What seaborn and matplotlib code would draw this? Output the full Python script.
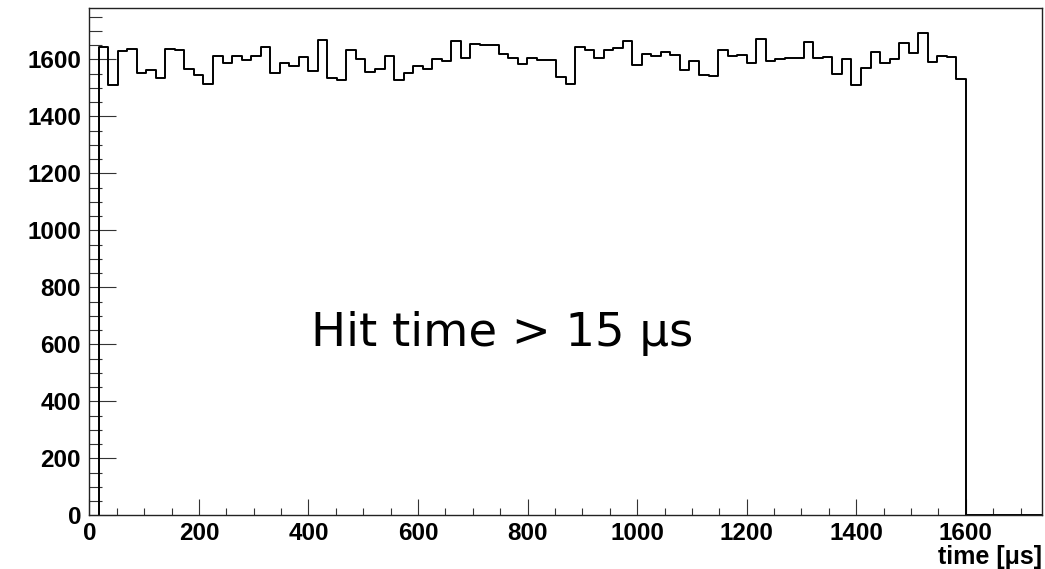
import numpy as np
import pandas as pd
import matplotlib
matplotlib.use("Agg")
import matplotlib.pyplot as plt
import seaborn as sns
from matplotlib.ticker import MultipleLocator

# bin contents (91 bins between ~17 us and 1600 us)
counts = [1643, 1511, 1628, 1635, 1553, 1561, 1533, 1636, 1634, 1565,
          1546, 1515, 1611, 1588, 1612, 1598, 1612, 1644, 1553, 1586,
          1578, 1608, 1558, 1668, 1533, 1526, 1634, 1601, 1556, 1566,
          1612, 1529, 1553, 1577, 1566, 1601, 1593, 1665, 1606, 1654,
          1650, 1650, 1620, 1604, 1584, 1604, 1596, 1598, 1538, 1515,
          1642, 1634, 1605, 1634, 1640, 1665, 1581, 1619, 1612, 1625,
          1615, 1563, 1593, 1544, 1540, 1632, 1613, 1615, 1588, 1670,
          1594, 1600, 1605, 1605, 1661, 1605, 1609, 1549, 1602, 1509,
          1570, 1625, 1586, 1601, 1656, 1622, 1694, 1591, 1613, 1608,
          1532]
t_lo, t_hi = 17, 1600
x_max, y_max = 1739, 1779

edges = np.linspace(t_lo, t_hi, len(counts) + 1)
df = pd.DataFrame({"time": 0.5 * (edges[:-1] + edges[1:]), "n": counts})

sns.set_style("ticks")
plt.rcParams["font.family"] = ["Liberation Sans", "DejaVu Sans"]
plt.rcParams["text.color"] = "black"
plt.rcParams["xtick.labelcolor"] = "black"
plt.rcParams["ytick.labelcolor"] = "black"

fig = plt.figure(figsize=(10.45, 5.69), dpi=100)
ax = fig.add_axes([0.0855, 0.0944, 0.9116, 0.891])

sns.histplot(data=df, x="time", weights="n", bins=list(edges), element="step",
             fill=False, color="black", linewidth=1.4, ax=ax)
# ROOT-style outline: drop to zero at both ends, empty tail after 1600
ax.vlines([edges[0], edges[-1]], 0, [counts[0], counts[-1]], color="black", lw=1.4)
ax.plot([t_hi, x_max], [0, 0], color="black", lw=1.4)

ax.set_xlim(0, x_max)
ax.set_ylim(0, y_max)
ax.xaxis.set_major_locator(MultipleLocator(200))
ax.xaxis.set_minor_locator(MultipleLocator(50))
ax.yaxis.set_major_locator(MultipleLocator(200))
ax.yaxis.set_minor_locator(MultipleLocator(50))

ax.tick_params(axis="both", which="both", direction="in", top=False, right=False,
               width=0.8, color="#333333")
ax.tick_params(axis="y", which="major", length=19.5, pad=6)
ax.tick_params(axis="y", which="minor", length=9.5)
ax.tick_params(axis="x", which="major", length=11.5, pad=5)
ax.tick_params(axis="x", which="minor", length=5.2)
for lab in ax.get_xticklabels() + ax.get_yticklabels():
    lab.set_fontweight("bold")
    lab.set_fontsize(17.5)
    lab.set_color("black")
for s in ax.spines.values():
    s.set_linewidth(1.0)
    s.set_color("#222222")

ax.set_ylabel("")
ax.set_xlabel("time [μs]", fontsize=18, fontweight="bold", loc="right",
              labelpad=0, color="black")

ax.text(0.433, 0.334, "Hit time > 15 μs", transform=ax.transAxes, ha="center",
        va="baseline", fontsize=33.5, family="DejaVu Sans", color="black")

fig.savefig("out.png", dpi=100)
